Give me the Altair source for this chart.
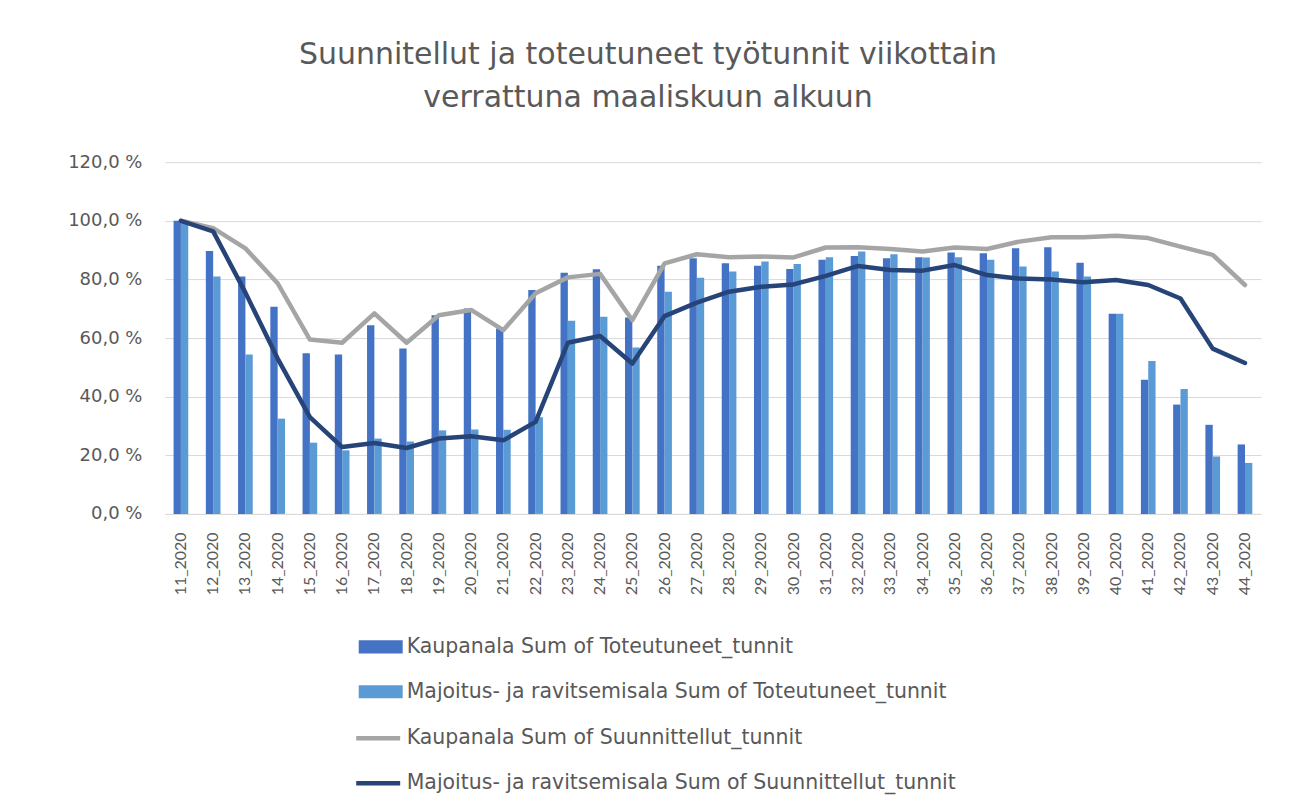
import altair as alt
import pandas as pd

weeks = ["11_2020", "12_2020", "13_2020", "14_2020", "15_2020", "16_2020", "17_2020",
         "18_2020", "19_2020", "20_2020", "21_2020", "22_2020", "23_2020", "24_2020",
         "25_2020", "26_2020", "27_2020", "28_2020", "29_2020", "30_2020", "31_2020",
         "32_2020", "33_2020", "34_2020", "35_2020", "36_2020", "37_2020", "38_2020",
         "39_2020", "40_2020", "41_2020", "42_2020", "43_2020", "44_2020"]

kaupanala_toteutuneet = [100.0, 89.7, 81.0, 70.7, 54.8, 54.4, 64.4, 56.4, 67.8, 70.1, 63.3,
                         76.4, 82.3, 83.5, 67.0, 84.7, 87.2, 85.5, 84.7, 83.6, 86.7, 88.0,
                         87.2, 87.6, 89.2, 88.9, 90.6, 91.0, 85.7, 68.3, 45.8, 37.3, 30.4, 23.7]
majoitus_toteutuneet = [99.5, 81.0, 54.4, 32.5, 24.3, 21.7, 25.7, 24.7, 28.5, 28.8, 28.7,
                        33.0, 65.9, 67.3, 56.8, 75.8, 80.6, 82.7, 86.1, 85.3, 87.6, 89.5,
                        88.6, 87.5, 87.6, 86.7, 84.4, 82.7, 81.0, 68.3, 52.2, 42.6, 19.6, 17.4]
kaupanala_suunnitellut = [100.0, 97.5, 90.6, 78.7, 59.5, 58.4, 68.4, 58.4, 67.8, 69.6, 62.7,
                          75.3, 80.7, 81.9, 66.1, 85.5, 88.6, 87.6, 87.8, 87.5, 90.9, 91.0,
                          90.4, 89.5, 90.9, 90.4, 92.9, 94.4, 94.4, 94.9, 94.1, 91.2, 88.4, 78.1]
majoitus_suunnitellut = [100.0, 96.4, 75.5, 53.0, 33.0, 22.8, 24.2, 22.5, 25.7, 26.5, 25.1,
                         31.4, 58.4, 60.7, 51.3, 67.5, 72.1, 75.8, 77.5, 78.3, 81.2, 84.6,
                         83.2, 83.0, 84.9, 81.5, 80.3, 80.0, 79.0, 79.8, 78.1, 73.5, 56.4, 51.5]

bar_names = ["Kaupanala Sum of Toteutuneet_tunnit",
             "Majoitus- ja ravitsemisala Sum of Toteutuneet_tunnit"]
line_names = ["Kaupanala Sum of Suunnittellut_tunnit",
              "Majoitus- ja ravitsemisala Sum of Suunnittellut_tunnit"]

bars_df = pd.concat([
    pd.DataFrame({"week": weeks, "series": bar_names[0], "value": kaupanala_toteutuneet}),
    pd.DataFrame({"week": weeks, "series": bar_names[1], "value": majoitus_toteutuneet}),
])
lines_df = pd.concat([
    pd.DataFrame({"week": weeks, "series": line_names[0], "value": kaupanala_suunnitellut}),
    pd.DataFrame({"week": weeks, "series": line_names[1], "value": majoitus_suunnitellut}),
])

FONT = "DejaVu Sans"
TXT = "#595959"

x_enc = alt.X("week:N", sort=weeks,
              scale=alt.Scale(paddingInner=0.545, paddingOuter=0.27),
              axis=alt.Axis(title=None, labelAngle=270, labelFontSize=16, labelColor=TXT,
                            labelFont="Lato", labelPadding=18, ticks=False,
                            domainColor="#D9D9D9", domainWidth=1, grid=False))
y_enc = alt.Y("value:Q", scale=alt.Scale(domain=[0, 120], nice=False),
              axis=alt.Axis(title=None, values=[0, 20, 40, 60, 80, 100, 120],
                            labelExpr="replace(format(datum.value, '.1f'), '.', ',') + ' %'",
                            labelFontSize=18, labelColor=TXT, labelFont=FONT,
                            labelPadding=23, ticks=False, domain=False,
                            gridColor="#D9D9D9", gridWidth=1))

bars = alt.Chart(bars_df).mark_bar().encode(
    x=x_enc,
    xOffset=alt.XOffset("series:N", sort=bar_names),
    y=y_enc,
    color=alt.Color("series:N", sort=bar_names,
                    scale=alt.Scale(domain=bar_names, range=["#4472C4", "#5B9BD5"]),
                    legend=alt.Legend(title=None, orient="none", legendX=194, legendY=463,
                                      direction="vertical",
                                      symbolType="M-1,-0.3H1V0.3H-1Z", symbolSize=1936,
                                      symbolStrokeWidth=0, labelFontSize=20.5,
                                      labelColor=TXT, labelFont=FONT, rowPadding=12,
                                      labelOffset=4, labelLimit=800)),
)

lines = alt.Chart(lines_df).mark_line(strokeWidth=4.5, strokeCap="round",
                                      strokeJoin="round").encode(
    x=alt.X("week:N", sort=weeks),
    y=alt.Y("value:Q"),
    stroke=alt.Stroke("series:N", sort=line_names,
                      scale=alt.Scale(domain=line_names, range=["#A5A5A5", "#264478"]),
                      legend=alt.Legend(title=None, orient="none", legendX=189, legendY=552,
                                        direction="vertical", symbolType="stroke",
                                        symbolSize=1936, symbolStrokeWidth=4.5,
                                        labelFontSize=20.5, labelColor=TXT, labelFont=FONT,
                                        rowPadding=10, labelOffset=4, labelLimit=800)),
)

chart = alt.layer(bars, lines).properties(
    width=1097, height=352,
    title=alt.TitleParams(
        ["Suunnitellut ja toteutuneet työtunnit viikottain", "verrattuna maaliskuun alkuun"],
        fontSize=30, font=FONT, fontWeight="normal", color=TXT, lineHeight=43,
        anchor="middle", dx=-65, offset=40),
    padding={"left": 59, "top": 32, "right": 20, "bottom": 10},
).configure(background="white").configure_view(strokeWidth=0, stroke="transparent")

chart.save("out.html", embed_options={"renderer": "svg", "actions": False})
